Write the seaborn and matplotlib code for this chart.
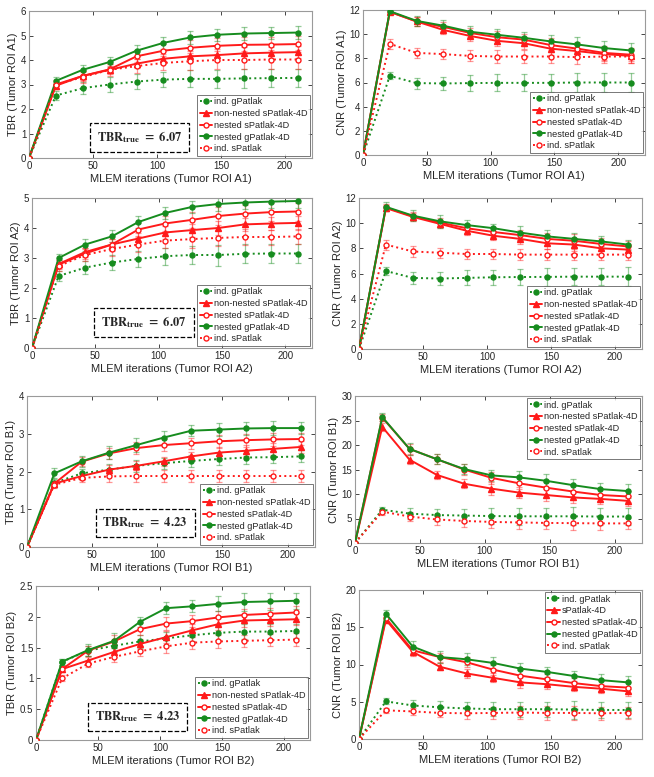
import numpy as np
import pandas as pd
import matplotlib
matplotlib.use("Agg")
import matplotlib.pyplot as plt
from matplotlib.lines import Line2D
import seaborn as sns

sns.set_style("white")
plt.rcParams['font.family'] = ['Liberation Sans', 'DejaVu Sans']
plt.rcParams['mathtext.fontset'] = 'stix'

# iterations
iters = [0, 21, 42, 63, 84, 105, 126, 147, 168, 189, 210]

labels = ["ind. gPatlak", "non-nested sPatlak-4D", "nested sPatlak-4D",
          "nested gPatlak-4D", "ind. sPatlak"]
labels_b2cnr = ["ind. gPatlak", "sPatlak-4D", "nested sPatlak-4D",
                "nested gPatlak-4D", "ind. sPatlak"]

# ---- A1 TBR
a1_tbr_indg = [0, 2.55, 2.85, 3.0, 3.12, 3.2, 3.23, 3.23, 3.25, 3.26, 3.27]
a1_tbr_nonn = [0, 2.95, 3.35, 3.6, 3.85, 4.05, 4.15, 4.2, 4.27, 4.3, 4.32]
a1_tbr_nests = [0, 3.0, 3.35, 3.62, 4.15, 4.38, 4.5, 4.58, 4.62, 4.63, 4.65]
a1_tbr_nestg = [0, 3.15, 3.6, 3.92, 4.38, 4.7, 4.92, 5.03, 5.08, 5.1, 5.12]
a1_tbr_inds = [0, 3.0, 3.3, 3.6, 3.75, 3.88, 3.95, 4.0, 4.0, 4.02, 4.02]
a1_tbr_err = [[0, 0.2, 0.25, 0.3, 0.3, 0.3, 0.35, 0.38, 0.38, 0.38, 0.38],
              [0, 0.12, 0.15, 0.15, 0.18, 0.2, 0.22, 0.25, 0.25, 0.25, 0.25],
              [0, 0.15, 0.2, 0.2, 0.25, 0.28, 0.3, 0.32, 0.32, 0.32, 0.32],
              [0, 0.15, 0.2, 0.22, 0.22, 0.25, 0.25, 0.25, 0.25, 0.25, 0.28],
              [0, 0.2, 0.25, 0.25, 0.28, 0.3, 0.35, 0.38, 0.38, 0.38, 0.38]]

# ---- A1 CNR
a1_cnr_indg = [0, 6.55, 5.95, 5.92, 5.95, 5.97, 5.97, 5.97, 6.0, 6.0, 6.0]
a1_cnr_nonn = [0, 11.85, 11.05, 10.35, 9.85, 9.45, 9.25, 8.8, 8.6, 8.35, 8.2]
a1_cnr_nests = [0, 11.85, 11.05, 10.6, 10.1, 9.75, 9.55, 9.1, 8.8, 8.45, 8.3]
a1_cnr_nestg = [0, 11.9, 11.1, 10.7, 10.2, 9.95, 9.7, 9.4, 9.15, 8.85, 8.65]
a1_cnr_inds = [0, 9.2, 8.45, 8.35, 8.2, 8.15, 8.15, 8.15, 8.1, 8.15, 8.15]
a1_cnr_err = [[0, 0.3, 0.45, 0.5, 0.65, 0.7, 0.7, 0.75, 0.8, 0.8, 0.8],
              [0, 0.2, 0.35, 0.35, 0.4, 0.45, 0.5, 0.5, 0.5, 0.55, 0.55],
              [0, 0.2, 0.35, 0.4, 0.45, 0.5, 0.5, 0.55, 0.55, 0.55, 0.55],
              [0, 0.2, 0.4, 0.45, 0.45, 0.5, 0.5, 0.55, 0.6, 0.6, 0.6],
              [0, 0.4, 0.4, 0.4, 0.45, 0.5, 0.55, 0.55, 0.55, 0.55, 0.55]]

# ---- A2 TBR
a2_tbr_indg = [0, 2.4, 2.68, 2.85, 2.97, 3.06, 3.1, 3.1, 3.14, 3.15, 3.15]
a2_tbr_nonn = [0, 2.8, 3.2, 3.45, 3.65, 3.85, 3.93, 4.0, 4.12, 4.15, 4.17]
a2_tbr_nests = [0, 2.78, 3.15, 3.45, 3.95, 4.15, 4.27, 4.4, 4.48, 4.53, 4.55]
a2_tbr_nestg = [0, 3.0, 3.45, 3.72, 4.2, 4.5, 4.7, 4.8, 4.85, 4.88, 4.9]
a2_tbr_inds = [0, 2.73, 3.1, 3.3, 3.45, 3.58, 3.63, 3.67, 3.7, 3.7, 3.72]
a2_tbr_err = [[0, 0.18, 0.22, 0.25, 0.28, 0.28, 0.3, 0.35, 0.32, 0.32, 0.32],
              [0, 0.12, 0.15, 0.18, 0.2, 0.22, 0.22, 0.22, 0.22, 0.22, 0.22],
              [0, 0.15, 0.18, 0.2, 0.22, 0.25, 0.28, 0.3, 0.3, 0.3, 0.3],
              [0, 0.15, 0.2, 0.2, 0.2, 0.2, 0.2, 0.22, 0.22, 0.22, 0.22],
              [0, 0.15, 0.2, 0.22, 0.25, 0.25, 0.28, 0.28, 0.28, 0.25, 0.25]]

# ---- A2 CNR
a2_cnr_indg = [0, 6.2, 5.65, 5.6, 5.65, 5.7, 5.72, 5.73, 5.75, 5.75, 5.75]
a2_cnr_nonn = [0, 11.2, 10.5, 9.95, 9.4, 9.0, 8.75, 8.4, 8.3, 8.0, 7.9]
a2_cnr_nests = [0, 11.25, 10.55, 10.05, 9.6, 9.3, 9.05, 8.75, 8.6, 8.35, 8.15]
a2_cnr_nestg = [0, 11.3, 10.6, 10.15, 9.85, 9.6, 9.25, 8.95, 8.75, 8.55, 8.3]
a2_cnr_inds = [0, 8.3, 7.75, 7.65, 7.55, 7.55, 7.5, 7.5, 7.5, 7.5, 7.5]
a2_cnr_err = [[0, 0.3, 0.45, 0.5, 0.6, 0.6, 0.65, 0.7, 0.7, 0.7, 0.75],
              [0, 0.25, 0.3, 0.3, 0.35, 0.35, 0.4, 0.45, 0.5, 0.45, 0.45],
              [0, 0.25, 0.3, 0.35, 0.35, 0.4, 0.4, 0.45, 0.5, 0.45, 0.45],
              [0, 0.35, 0.45, 0.5, 0.4, 0.35, 0.55, 0.5, 0.5, 0.4, 0.4],
              [0, 0.4, 0.4, 0.4, 0.4, 0.4, 0.45, 0.45, 0.45, 0.45, 0.45]]

# ---- B1 TBR
b1_tbr_indg = [0, 1.7, 1.95, 2.05, 2.15, 2.22, 2.28, 2.33, 2.37, 2.38, 2.4]
b1_tbr_nonn = [0, 1.68, 1.88, 2.05, 2.15, 2.27, 2.4, 2.5, 2.55, 2.6, 2.65]
b1_tbr_nests = [0, 1.68, 2.26, 2.48, 2.62, 2.7, 2.75, 2.8, 2.83, 2.85, 2.86]
b1_tbr_nestg = [0, 1.95, 2.27, 2.5, 2.7, 2.9, 3.08, 3.11, 3.14, 3.15, 3.15]
b1_tbr_inds = [0, 1.65, 1.83, 1.87, 1.88, 1.88, 1.88, 1.88, 1.88, 1.88, 1.88]
b1_tbr_err = [[0, 0.1, 0.12, 0.15, 0.15, 0.15, 0.15, 0.16, 0.16, 0.16, 0.16],
              [0, 0.08, 0.1, 0.12, 0.12, 0.12, 0.12, 0.15, 0.15, 0.15, 0.15],
              [0, 0.08, 0.12, 0.15, 0.15, 0.15, 0.15, 0.17, 0.17, 0.17, 0.17],
              [0, 0.13, 0.15, 0.18, 0.18, 0.16, 0.15, 0.18, 0.18, 0.18, 0.16],
              [0, 0.1, 0.12, 0.15, 0.15, 0.15, 0.15, 0.15, 0.15, 0.15, 0.15]]

# ---- B1 CNR
b1_cnr_indg = [0, 6.8, 6.0, 5.7, 5.6, 5.5, 5.45, 5.45, 5.45, 5.4, 5.4]
b1_cnr_nonn = [0, 23.7, 17.0, 13.9, 12.1, 11.1, 10.3, 9.8, 9.3, 9.0, 8.6]
b1_cnr_nests = [0, 25.6, 19.2, 17.1, 15.0, 13.3, 12.2, 11.3, 10.5, 9.8, 9.5]
b1_cnr_nestg = [0, 25.7, 19.2, 17.1, 15.1, 13.8, 13.4, 12.7, 11.8, 11.0, 10.6]
b1_cnr_inds = [0, 6.4, 5.4, 4.8, 4.5, 4.3, 4.2, 4.1, 4.05, 4.0, 4.0]
b1_cnr_err = [[0, 0.6, 1.1, 1.3, 1.4, 1.6, 1.7, 1.7, 1.8, 1.7, 1.8],
              [0, 0.8, 0.9, 0.8, 0.9, 1.3, 1.2, 1.2, 1.2, 1.1, 1.0],
              [0, 0.8, 1.0, 1.0, 1.1, 1.2, 1.2, 1.2, 1.2, 1.2, 1.2],
              [0, 0.8, 1.2, 1.0, 1.1, 1.1, 1.2, 1.3, 1.2, 1.2, 1.4],
              [0, 0.6, 0.9, 1.1, 1.2, 1.3, 1.3, 1.3, 1.3, 1.3, 1.2]]

# ---- B2 TBR
b2_tbr_indg = [0, 1.27, 1.45, 1.53, 1.6, 1.65, 1.7, 1.74, 1.76, 1.76, 1.77]
b2_tbr_nonn = [0, 1.15, 1.29, 1.43, 1.56, 1.67, 1.78, 1.88, 1.94, 1.95, 1.96]
b2_tbr_nests = [0, 1.15, 1.45, 1.6, 1.8, 1.89, 1.93, 1.99, 2.03, 2.05, 2.07]
b2_tbr_nestg = [0, 1.27, 1.46, 1.61, 1.92, 2.14, 2.17, 2.21, 2.24, 2.25, 2.26]
b2_tbr_inds = [0, 1.0, 1.24, 1.35, 1.44, 1.52, 1.58, 1.6, 1.61, 1.62, 1.63]
b2_tbr_err = [[0, 0.05, 0.08, 0.1, 0.1, 0.1, 0.1, 0.12, 0.12, 0.12, 0.12],
              [0, 0.05, 0.06, 0.08, 0.08, 0.1, 0.1, 0.1, 0.1, 0.1, 0.1],
              [0, 0.05, 0.08, 0.1, 0.1, 0.1, 0.1, 0.1, 0.1, 0.1, 0.1],
              [0, 0.05, 0.1, 0.12, 0.08, 0.1, 0.1, 0.12, 0.14, 0.14, 0.13],
              [0, 0.05, 0.06, 0.08, 0.08, 0.1, 0.1, 0.1, 0.1, 0.1, 0.1]]

# ---- B2 CNR
b2_cnr_indg = [0, 5.05, 4.5, 4.25, 4.1, 4.0, 4.0, 4.0, 3.95, 3.9, 3.9]
b2_cnr_nonn = [0, 16.0, 11.7, 9.7, 8.8, 8.2, 7.6, 7.35, 7.0, 6.75, 6.4]
b2_cnr_nests = [0, 16.2, 11.9, 11.0, 10.3, 9.3, 8.5, 8.0, 7.5, 7.1, 6.9]
b2_cnr_nestg = [0, 16.8, 12.4, 11.0, 10.7, 10.2, 9.45, 9.0, 8.45, 7.9, 7.6]
b2_cnr_inds = [0, 3.85, 3.7, 3.5, 3.45, 3.5, 3.55, 3.5, 3.5, 3.45, 3.5]
b2_cnr_err = [[0, 0.4, 0.7, 0.8, 0.9, 0.9, 1.0, 1.0, 1.2, 1.1, 1.1],
              [0, 0.4, 0.5, 0.5, 0.6, 0.6, 0.7, 0.6, 0.6, 0.6, 0.6],
              [0, 0.4, 0.5, 0.6, 0.7, 0.7, 0.7, 0.7, 0.7, 0.7, 0.7],
              [0, 0.5, 0.8, 0.8, 0.8, 0.8, 0.8, 0.7, 0.7, 0.8, 0.9],
              [0, 0.3, 0.5, 0.6, 0.7, 0.8, 0.9, 0.9, 0.9, 0.9, 0.8]]

GREEN = '#168c1e'
RED = '#ff1a1a'
# per-series style: color, linestyle, marker, filled
styles = [(GREEN, ':', 'o', True),
          (RED, '-', '^', True),
          (RED, '-', 'o', False),
          (GREEN, '-', 'o', True),
          (RED, ':', 'o', False)]

W, H = 654, 777
fig = plt.figure(figsize=(W / 100, H / 100), dpi=100)


def add_ax(l, r, t, b):
    return fig.add_axes([l / W, (H - b) / H, (r - l) / W, (b - t) / H])


def mk_kw(st):
    col, ls, mk, filled = st
    return dict(color=col, linestyle=ls, lw=1.4, marker=mk,
                markersize=3.6 if mk == 'o' else 4.2,
                markerfacecolor=col if filled else 'white',
                markeredgecolor=col, markeredgewidth=1.0)


def panel(ax, series, errs, ylabel, xlabel, ymax, ystep, yfmt,
          leg_labels, leg_loc, tbr_text=None, tbr_pos=None):
    for (vals, err, st) in zip(series, errs, styles):
        ax.errorbar(iters, vals, yerr=err, fmt='none', ecolor=st[0], alpha=0.45,
                    elinewidth=0.9, capsize=2.5, capthick=0.9, zorder=2)
        sns.lineplot(x=iters, y=vals, ax=ax, zorder=3, legend=False, **mk_kw(st))
    ax.set_xlim(0, 221)
    ax.set_ylim(0, ymax)
    ax.set_xticks([0, 50, 100, 150, 200])
    yt = np.arange(0, ymax + 1e-9, ystep)
    ax.set_yticks(yt)
    ax.set_yticklabels([yfmt(v) for v in yt])
    ax.set_xlabel(xlabel, fontsize=8, color='#262626', labelpad=2)
    ax.set_ylabel(ylabel, fontsize=8, color='#262626', labelpad=2)
    ax.tick_params(direction='in', length=3, width=0.6, labelsize=7,
                   colors='#262626', pad=2, top=True, right=True,
                   bottom=True, left=True)
    for s in ax.spines.values():
        s.set_color('#9a9a9a')
        s.set_linewidth(0.8)
    handles = [Line2D([], [], **mk_kw(st)) for st in styles]
    leg = ax.legend(handles, leg_labels, loc=leg_loc, fontsize=6.6, frameon=True,
                    fancybox=False, handlelength=1.4, handletextpad=0.15,
                    borderpad=0.25, labelspacing=0.3, borderaxespad=0.25,
                    edgecolor='#555555')
    leg.get_frame().set_linewidth(0.7)
    if tbr_text is not None:
        ax.text(tbr_pos[0], tbr_pos[1], r'$\mathbf{TBR_{true}}$' + ' ' + r'$\mathbf{=}$' + ' ' + r'$\mathbf{' + tbr_text + '}$',
                transform=ax.transAxes, ha='center', va='center', fontsize=9,
                bbox=dict(boxstyle='square,pad=0.55', fc='white', ec='black',
                          ls='--', lw=0.9), zorder=5)


def fmt_int(v):
    return f'{int(round(v))}'


def fmt_half(v):
    return f'{v:g}'


# A1
ax = add_ax(29, 312, 11, 158)
panel(ax, [a1_tbr_indg, a1_tbr_nonn, a1_tbr_nests, a1_tbr_nestg, a1_tbr_inds], a1_tbr_err,
      'TBR (Tumor ROI A1)', 'MLEM iterations (Tumor ROI A1)', 6, 1, fmt_int,
      labels, 'lower right', '6.07', (0.39, 0.14))
ax = add_ax(363, 645, 10, 155)
panel(ax, [a1_cnr_indg, a1_cnr_nonn, a1_cnr_nests, a1_cnr_nestg, a1_cnr_inds], a1_cnr_err,
      'CNR (Tumor ROI A1)', 'MLEM iterations (Tumor ROI A1)', 12, 2, fmt_int,
      labels, 'lower right')
# A2
ax = add_ax(32, 312, 198, 348)
panel(ax, [a2_tbr_indg, a2_tbr_nonn, a2_tbr_nests, a2_tbr_nestg, a2_tbr_inds], a2_tbr_err,
      'TBR (Tumor ROI A2)', 'MLEM iterations (Tumor ROI A2)', 5, 1, fmt_int,
      labels, 'lower right', '6.07', (0.4, 0.17))
ax = add_ax(359, 642, 198, 349)
panel(ax, [a2_cnr_indg, a2_cnr_nonn, a2_cnr_nests, a2_cnr_nestg, a2_cnr_inds], a2_cnr_err,
      'CNR (Tumor ROI A2)', 'MLEM iterations (Tumor ROI A2)', 12, 2, fmt_int,
      labels, 'lower right')
# B1
ax = add_ax(27, 315, 396, 547)
panel(ax, [b1_tbr_indg, b1_tbr_nonn, b1_tbr_nests, b1_tbr_nestg, b1_tbr_inds], b1_tbr_err,
      'TBR (Tumor ROI B1)', 'MLEM iterations (Tumor ROI B1)', 4, 1, fmt_int,
      labels, 'lower right', '4.23', (0.41, 0.16))
ax = add_ax(355, 642, 396, 543)
panel(ax, [b1_cnr_indg, b1_cnr_nonn, b1_cnr_nests, b1_cnr_nestg, b1_cnr_inds], b1_cnr_err,
      'CNR (Tumor ROI B1)', 'MLEM iterations (Tumor ROI B1)', 30, 5, fmt_int,
      labels, 'upper right')
# B2
ax = add_ax(36, 310, 586, 740)
panel(ax, [b2_tbr_indg, b2_tbr_nonn, b2_tbr_nests, b2_tbr_nestg, b2_tbr_inds], b2_tbr_err,
      'TBR (Tumor ROI B2)', 'MLEM iterations (Tumor ROI B2)', 2.5, 0.5, fmt_half,
      labels, 'lower right', '4.23', (0.37, 0.15))
ax = add_ax(359, 642, 590, 739)
panel(ax, [b2_cnr_indg, b2_cnr_nonn, b2_cnr_nests, b2_cnr_nestg, b2_cnr_inds], b2_cnr_err,
      'CNR (Tumor ROI B2)', 'MLEM iterations (Tumor ROI B2)', 20, 5, fmt_int,
      labels_b2cnr, 'upper right')

fig.savefig('out.png', dpi=100, facecolor='white')
